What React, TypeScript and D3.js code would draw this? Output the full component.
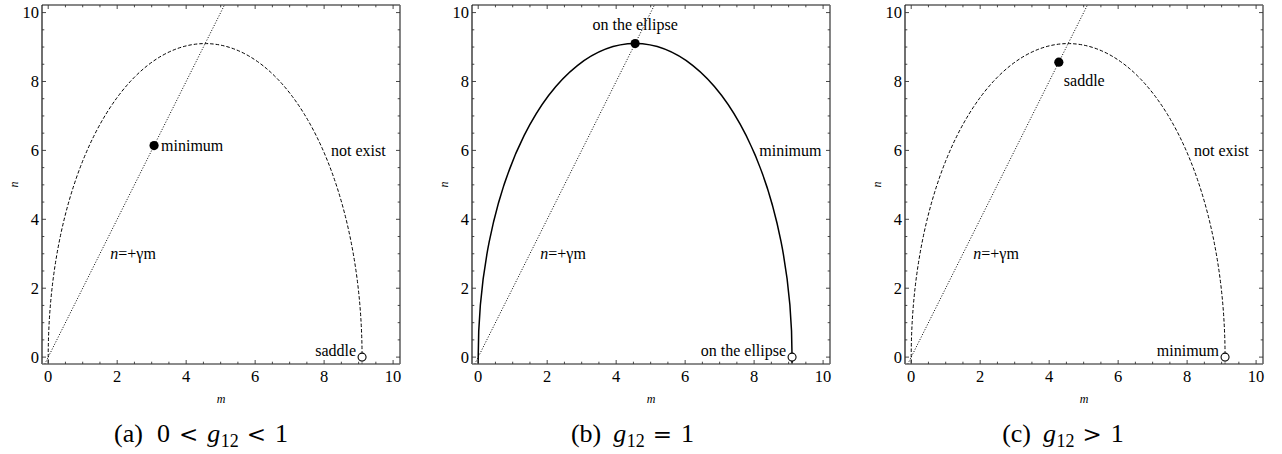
import React from "react";
import * as d3 from "d3";

// Parameter-space diagrams: ellipse boundary, the line n = γm and stationary points
const panelTags = ["(a)", "(b)", "(c)"];
const panelLeadValues = ["0", "", ""];
const panelLeadRelations = ["<", "", ""];
const panelTrailRelations = ["<", "=", ">"];
const panelTrailValues = ["1", "1", "1"];
const couplingSymbol = "g";
const couplingIndex = "12";

const majorTicks = [0, 2, 4, 6, 8, 10];
const minorTicks = [0.5, 1, 1.5, 2.5, 3, 3.5, 4.5, 5, 5.5, 6.5, 7, 7.5, 8.5, 9, 9.5];

const ellipseCenter = [4.55, 0];
const ellipseRadii = [4.55, 9.1];
const gamma = 2;
const lineSpan = [-0.1, 5.3];

const interiorPoints = [
  [3.07, 6.14],
  [4.55, 9.1],
  [4.28, 8.56],
];
const boundaryPoint = [9.1, 0];
const interiorLabels = ["minimum", "on the ellipse", "saddle"];
const boundaryLabels = ["saddle", "on the ellipse", "minimum"];
const ellipseLabels = ["not exist", "minimum", "not exist"];
const lineLabel = ["n", "=+γm"];

const W = 1282;
const H = 454;
const PLOT_W = 358;
const PLOT_H = 359;
const TOP = 5;
const LEFTS = [42, 472, 905];
const CAPTION_CENTERS = [201, 632.5, 1063];
const FONT = "'Liberation Serif', 'Times New Roman', serif";
const REL_FONT = "'DejaVu Serif', serif";
const LABEL_SIZE = 16;
const TICK_SIZE = 16.5;

function Caption({ idx }: { idx: number }) {
  const lead = panelLeadValues[idx];
  const leadRel = panelLeadRelations[idx];
  return (
    <text
      x={CAPTION_CENTERS[idx]}
      y={442}
      fontSize={26}
      fontFamily={FONT}
      textAnchor="middle"
    >
      <tspan>{panelTags[idx]}</tspan>
      {lead ? (
        <>
          <tspan dx={14}>{lead}</tspan>
          <tspan dx={9} fontFamily={REL_FONT} fontSize={23}>
            {leadRel}
          </tspan>
          <tspan dx={9} fontStyle="italic">
            {couplingSymbol}
          </tspan>
        </>
      ) : (
        <tspan dx={12} fontStyle="italic">
          {couplingSymbol}
        </tspan>
      )}
      <tspan fontSize={18} dx={0.5} dy={5}>
        {couplingIndex}
      </tspan>
      <tspan dx={8} dy={-5} fontFamily={REL_FONT} fontSize={23}>
        {panelTrailRelations[idx]}
      </tspan>
      <tspan dx={9}>{panelTrailValues[idx]}</tspan>
    </text>
  );
}

function Panel({ idx }: { idx: number }) {
  const left = LEFTS[idx];
  const x = d3.scaleLinear().domain([-0.18, 10.2]).range([left, left + PLOT_W]);
  const y = d3.scaleLinear().domain([-0.2, 10.22]).range([TOP + PLOT_H, TOP]);
  const right = left + PLOT_W;
  const bottom = TOP + PLOT_H;
  const clipId = `plot-clip-${idx}`;

  const line = d3
    .line<number>()
    .x((m) => x(m))
    .y((m) => y(gamma * m));

  const [ip, jp] = interiorPoints[idx];
  const px = x(ip);
  const py = y(jp);
  const bx = x(boundaryPoint[0]);
  const by = y(boundaryPoint[1]);

  const solid = idx === 1;

  let interiorText: React.ReactNode;
  if (idx === 0) {
    interiorText = (
      <text x={px + 7} y={py + 5} fontSize={LABEL_SIZE} fontFamily={FONT}>
        {interiorLabels[idx]}
      </text>
    );
  } else if (idx === 1) {
    interiorText = (
      <text x={px} y={py - 14} fontSize={LABEL_SIZE} fontFamily={FONT} textAnchor="middle">
        {interiorLabels[idx]}
      </text>
    );
  } else {
    interiorText = (
      <text x={px + 5} y={py + 24} fontSize={LABEL_SIZE} fontFamily={FONT}>
        {interiorLabels[idx]}
      </text>
    );
  }

  const ticksFor = (vals: number[], len: number, key: string) =>
    vals.map((v) => (
      <g key={`${key}-${v}`}>
        <line x1={x(v)} x2={x(v)} y1={bottom} y2={bottom - len} stroke="#333" strokeWidth={0.9} />
        <line x1={x(v)} x2={x(v)} y1={TOP} y2={TOP + len} stroke="#333" strokeWidth={0.9} />
        <line x1={left} x2={left + len} y1={y(v)} y2={y(v)} stroke="#333" strokeWidth={0.9} />
        <line x1={right} x2={right - len} y1={y(v)} y2={y(v)} stroke="#333" strokeWidth={0.9} />
      </g>
    ));

  return (
    <g>
      <defs>
        <clipPath id={clipId}>
          <rect x={left} y={TOP} width={PLOT_W} height={PLOT_H} />
        </clipPath>
      </defs>

      <g clipPath={`url(#${clipId})`}>
        <ellipse
          cx={x(ellipseCenter[0])}
          cy={y(ellipseCenter[1])}
          rx={x(ellipseCenter[0] + ellipseRadii[0]) - x(ellipseCenter[0])}
          ry={y(ellipseCenter[1]) - y(ellipseCenter[1] + ellipseRadii[1])}
          fill="none"
          stroke="#000"
          strokeWidth={solid ? 1.5 : 1}
          strokeDasharray={solid ? undefined : "3.5,2"}
        />
        <path
          d={line(lineSpan) || ""}
          fill="none"
          stroke="#000"
          strokeWidth={1}
          strokeDasharray="1,1.7"
        />
      </g>

      {/* frame */}
      <line x1={left} x2={right} y1={TOP} y2={TOP} stroke="#111" strokeWidth={1.2} />
      <line x1={left} x2={left} y1={TOP} y2={bottom} stroke="#111" strokeWidth={1.2} />
      <line x1={left} x2={right} y1={bottom} y2={bottom} stroke="#666" strokeWidth={1.6} />
      <line x1={right} x2={right} y1={TOP} y2={bottom} stroke="#666" strokeWidth={1.6} />
      {ticksFor(majorTicks, 4, "M")}
      {ticksFor(minorTicks, 2.3, "m")}

      {/* tick labels */}
      {majorTicks.map((v) => (
        <text
          key={`xl-${v}`}
          x={x(v)}
          y={382}
          fontSize={TICK_SIZE}
          fontFamily={FONT}
          textAnchor="middle"
        >
          {v}
        </text>
      ))}
      {majorTicks.map((v) => (
        <text
          key={`yl-${v}`}
          x={left - 3}
          y={y(v)}
          dy="0.34em"
          fontSize={TICK_SIZE}
          fontFamily={FONT}
          textAnchor="end"
        >
          {v}
        </text>
      ))}

      {/* axis titles */}
      <text
        x={(left + right) / 2}
        y={403}
        fontSize={12}
        fontStyle="italic"
        fontFamily={FONT}
        textAnchor="middle"
      >
        m
      </text>
      <text
        transform={`translate(${left - 24},${(TOP + bottom) / 2}) rotate(-90)`}
        fontSize={12}
        fontStyle="italic"
        fontFamily={FONT}
        textAnchor="middle"
      >
        n
      </text>

      {/* points */}
      <circle cx={px} cy={py} r={4.6} fill="#000" />
      <circle cx={bx} cy={by} r={4} fill="#fff" stroke="#000" strokeWidth={1.1} />

      {interiorText}
      <text x={bx - 6} y={by - 1.5} fontSize={LABEL_SIZE} fontFamily={FONT} textAnchor="end">
        {boundaryLabels[idx]}
      </text>
      <text x={x(idx === 1 ? 8.15 : 8.2)} y={y(5.85)} fontSize={LABEL_SIZE} fontFamily={FONT}>
        {ellipseLabels[idx]}
      </text>
      <text x={x(1.8)} y={y(2.84)} fontSize={LABEL_SIZE} fontFamily={FONT}>
        <tspan fontStyle="italic">{lineLabel[0]}</tspan>
        <tspan>{lineLabel[1]}</tspan>
      </text>

      <Caption idx={idx} />
    </g>
  );
}

export default function App() {
  return (
    <svg
      width={W}
      height={H}
      viewBox={`0 0 ${W} ${H}`}
      style={{ position: "absolute", left: 0, top: 0, background: "#fff" }}
    >
      <rect width={W} height={H} fill="#fff" />
      {panelTags.map((_, i) => (
        <Panel key={i} idx={i} />
      ))}
    </svg>
  );
}
